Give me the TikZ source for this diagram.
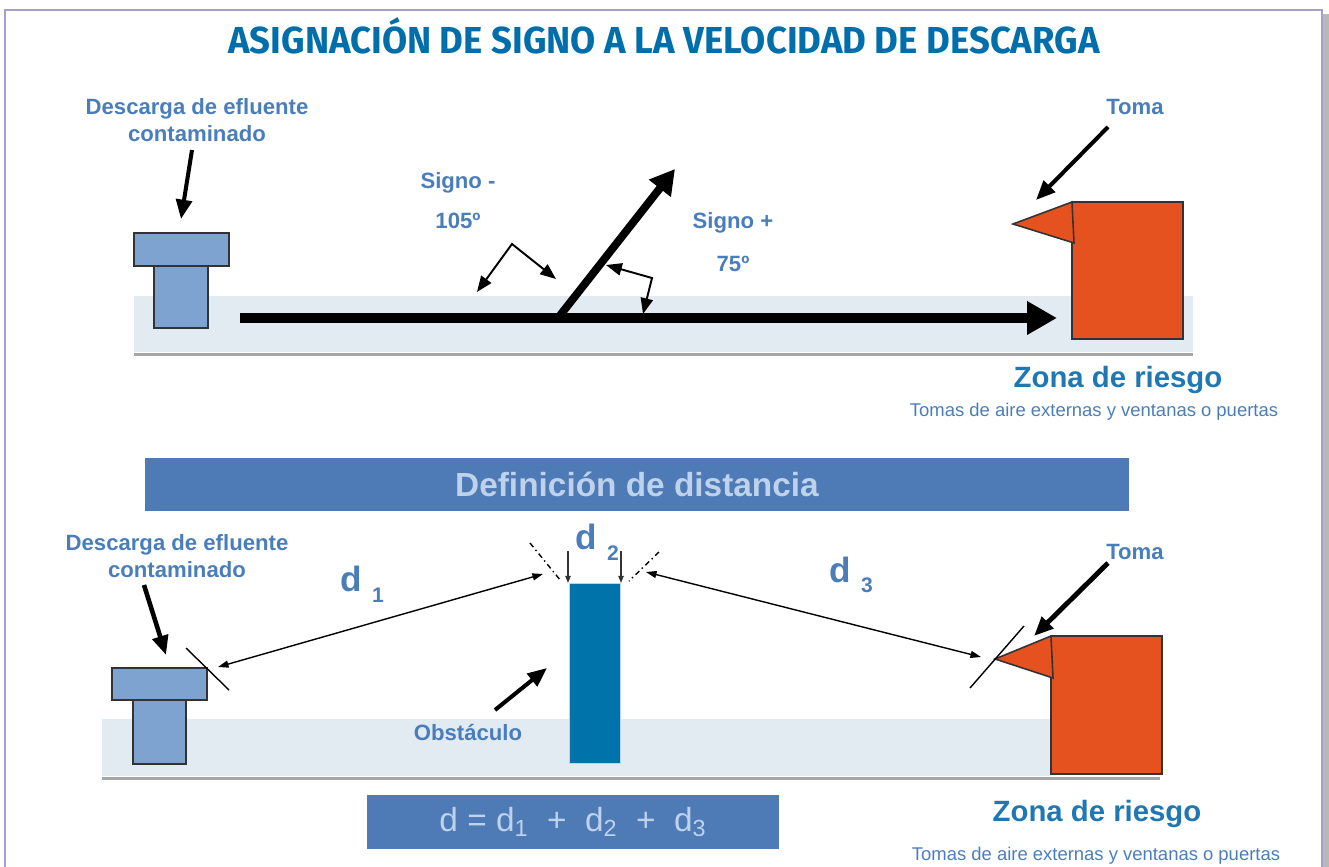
\documentclass[tikz,border=0pt]{standalone}
\usepackage{fontspec}
\setmainfont{Liberation Sans}
\newfontfamily\titlefont[FakeStretch=0.97]{Fira Sans}
\usetikzlibrary{arrows.meta,positioning}
\definecolor{titleblue}{RGB}{0,110,170}
\definecolor{labelblue}{RGB}{74,126,187}
\definecolor{zoneblue}{RGB}{31,120,180}
\definecolor{ductblue}{RGB}{127,163,209}
\definecolor{groundgray}{RGB}{226,234,242}
\definecolor{bannerblue}{RGB}{78,122,181}
\definecolor{bannertext}{RGB}{190,210,235}
\definecolor{riskorange}{RGB}{229,81,31}
\definecolor{wallblue}{RGB}{0,115,170}
\definecolor{framegray}{RGB}{165,160,200}
\begin{document}
\begin{tikzpicture}[x=0.02cm,y=-0.02cm,
    lbl/.style={text=labelblue,font=\bfseries\fontsize{12.6}{15.3}\selectfont,align=center},
    zone/.style={text=zoneblue,font=\bfseries\fontsize{16.7}{19}\selectfont},
    zonesub/.style={text=labelblue,font=\fontsize{10.5}{12}\selectfont},
    dlbl/.style={text=labelblue,font=\bfseries\fontsize{20}{22}\selectfont},
    pointer/.style={line width=2.3pt,-{Triangle[length=11pt,width=9pt]}},
    dimline/.style={line width=0.8pt,{Triangle[length=6pt,width=4pt]}-{Triangle[length=6pt,width=4pt]}},
    anglearr/.style={line width=1.1pt,{Triangle[length=9pt,width=7pt]}-{Triangle[length=9pt,width=7pt]}},
    duct/.style={fill=ductblue,draw=black!80,line width=0.9pt},
    risk/.style={fill=riskorange,draw=black!80,line width=0.9pt},
    groundshadow/.style={draw=gray!70,line width=1.7pt},
    banner/.style={fill=bannerblue,text=bannertext,inner sep=0pt}]
\useasboundingbox (0,0) rectangle (1329,866);
% frame
\fill[gray!55] (1323,14) rectangle (1329,870);
\draw[framegray,line width=0.8pt] (5,870) -- (5,10) -- (1322,10) -- (1322,870);
\node[text=titleblue,font=\titlefont\bfseries\fontsize{21.4}{24}\selectfont,anchor=base] (title) at (664,53) {ASIGNACIÓN DE SIGNO A LA VELOCIDAD DE DESCARGA};

% --- signo de la velocidad
\fill[groundgray] (134,296) rectangle (1193,352);
\draw[groundshadow] (134,354) -- (1193,354);
\draw[duct] (154,266) rectangle (208,328);
\draw[duct] (134,233) rectangle (229,266);
\draw[risk] (1072,202) rectangle (1183,339);
\draw[risk] (1013,224) -- (1072,202) -- (1074,243) -- cycle;

\coordinate (hstart) at (240,318);
\coordinate (hend) at (1057,318);
\coordinate (vbase) at (558,318);
\coordinate (vtip) at (675,169);
\draw[line width=5.7pt,-{Triangle[length=17pt,width=18pt]}] (hstart) -- (hend);
\draw[line width=4.5pt,-{Triangle[length=14pt,width=15pt]}] (vbase) -- (vtip);

\coordinate (neg1) at (477,292);
\coordinate (neg2) at (512,244);
\coordinate (neg3) at (556,279);
\draw[anglearr] (neg1) -- (neg2) -- (neg3);
\coordinate (pos1) at (606,265);
\coordinate (pos2) at (652,278);
\coordinate (pos3) at (643,314);
\draw[anglearr] (pos1) -- (pos2) -- (pos3);

\node[lbl] (signneg) at (458,183) {Signo -};
\node[lbl] (angneg) at (458,221) {105º};
\node[lbl] (signpos) at (733,223) {Signo +};
\node[lbl] (angpos) at (733,264) {75º};

\node[lbl] (descA) at (197,120) {Descarga de efluente\\contaminado};
\coordinate (descAstart) at (192,150);
\coordinate (descAend) at (181,219);
\draw[pointer] (descAstart) -- (descAend);

\node[lbl] (tomaA) at (1135,107) {Toma};
\coordinate (tomaAstart) at (1108,127);
\coordinate (tomaAend) at (1036,200);
\draw[pointer] (tomaAstart) -- (tomaAend);

\node[zone] (zonaA) at (1118,380) {Zona de riesgo};
\node[zonesub] (zonaAsub) at (1094,412) {Tomas de aire externas y ventanas o puertas};

% --- definicion de distancia
\node[banner,minimum width=19.68cm,minimum height=1.06cm,font=\bfseries\fontsize{19}{21}\selectfont] (defban) at (637,484) {Definición de distancia};

\fill[groundgray] (102,719) rectangle (1051,776);
\draw[groundshadow] (102,778) -- (1160,778);
\draw[duct] (133,700) rectangle (186,764);
\draw[duct] (112,668) rectangle (207,700);
\draw[risk] (1051,636) rectangle (1162,774);
\draw[risk] (995,659) -- (1051,636) -- (1053,678) -- cycle;
\fill[wallblue] (569,583) rectangle (620,763);
\draw[bannertext,line width=0.4pt] (569,583) rectangle (620,763);

% tangents and extension lines
\draw[line width=0.8pt] (186,648) -- (229,690);
\draw[line width=0.8pt] (970,688) -- (1024,626);
\draw[line width=0.8pt,dash dot] (530,543) -- (561,581);
\draw[line width=0.8pt,dash dot] (659,552) -- (629,581);
\coordinate (wallL) at (568,583);
\coordinate (wallR) at (621,583);
\draw[black!80,line width=0.8pt,-{Triangle[length=4pt,width=3pt]}] (568,551) -- (wallL);
\draw[black!80,line width=0.8pt,-{Triangle[length=4pt,width=3pt]}] (621,551) -- (wallR);

\coordinate (d1a) at (218,667);
\coordinate (d1b) at (543,574);
\draw[dimline] (d1a) -- (d1b);
\coordinate (d3a) at (646,572);
\coordinate (d3b) at (981,657);
\draw[dimline] (d3a) -- (d3b);

\node[dlbl] (d1lbl) at (362,584) {d\hspace{6pt}\raisebox{-6pt}{\fontsize{12}{12}\selectfont 1}};
\node[dlbl] (d2lbl) at (597,542) {d\hspace{6pt}\raisebox{-6pt}{\fontsize{12}{12}\selectfont 2}};
\node[dlbl] (d3lbl) at (851,575) {d\hspace{6pt}\raisebox{-6pt}{\fontsize{12}{12}\selectfont 3}};

\node[lbl] (descB) at (177,556) {Descarga de efluente\\contaminado};
\coordinate (descBstart) at (144,585);
\coordinate (descBend) at (166,655);
\draw[pointer,line width=2.6pt] (descBstart) -- (descBend);

\node[lbl] (obst) at (468,732) {Obstáculo};
\coordinate (obststart) at (495,710);
\coordinate (obstend) at (547,668);
\draw[pointer] (obststart) -- (obstend);

\node[lbl] (tomaB) at (1135,552) {Toma};
\coordinate (tomaBstart) at (1108,563);
\coordinate (tomaBend) at (1034,636);
\draw[pointer,line width=2.8pt] (tomaBstart) -- (tomaBend);

\node[zone] (zonaB) at (1097,814) {Zona de riesgo};
\node[zonesub] (zonaBsub) at (1096,856) {Tomas de aire externas y ventanas o puertas};

\node[banner,minimum width=8.24cm,minimum height=1.08cm,font=\fontsize{19}{21}\selectfont] (formula) at (573,822)
  {d = d\textsubscript{1}\ \ +\ \ d\textsubscript{2}\ \ +\ \ d\textsubscript{3}};
\end{tikzpicture}
\end{document}
